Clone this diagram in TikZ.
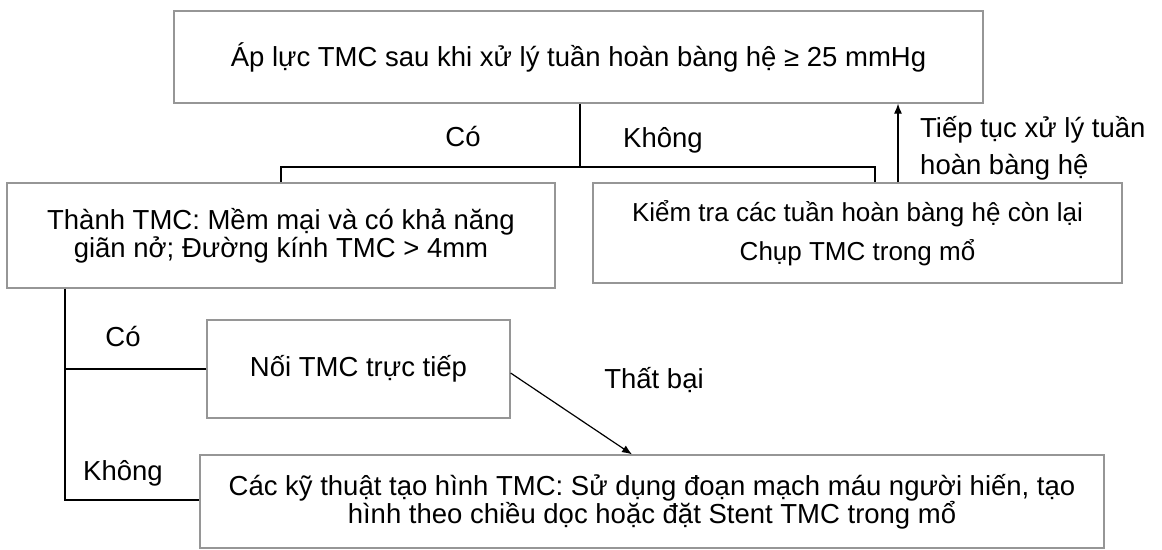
\documentclass[tikz,border=0pt]{standalone}
\usepackage{fontspec}
\setmainfont{Liberation Sans}
\usetikzlibrary{arrows.meta}
\definecolor{boxgray}{RGB}{150,150,150}
\tikzset{
  box/.style={draw=boxgray, line width=1.2pt, rectangle, inner sep=0pt, align=center, font=\fontsize{27.5}{28}\selectfont},
  lbl/.style={inner sep=0pt, font=\fontsize{27.5}{37}\selectfont},
  conn/.style={draw=black, line width=1.2pt},
  arr/.style={conn, -{Latex[length=10pt,width=8pt]}}
}
\begin{document}
\begin{tikzpicture}[x=1pt,y=-1pt]
\useasboundingbox (0,0) rectangle (1162,549);
\node[box, minimum width=809pt, minimum height=92pt] (top) at (578.5,57) {Áp lực TMC sau khi xử lý tuần hoàn bàng hệ ≥ 25 mmHg};
\node[box, minimum width=548pt, minimum height=105pt] (left) at (281,235.5) {Thành TMC: Mềm mại và có khả năng\\giãn nở; Đường kính TMC > 4mm};
\node[box, minimum width=529pt, minimum height=100pt, font=\fontsize{26}{39}\selectfont] (right) at (857.5,233) {Kiểm tra các tuần hoàn bàng hệ còn lại\\Chụp TMC trong mổ};
\node[box, minimum width=303pt, minimum height=98pt] (mid) at (358.5,369) {Nối TMC trực tiếp};
\node[box, minimum width=904pt, minimum height=93pt] (bot) at (652,501.5) {Các kỹ thuật tạo hình TMC: Sử dụng đoạn mạch máu người hiến, tạo\\hình theo chiều dọc hoặc đặt Stent TMC trong mổ};
\coordinate (j1) at (580,167);
\coordinate (j2) at (65,500);
\draw[conn] (top.south -| j1) -- (j1);
\draw[conn] (j1) -| (left.north);
\draw[conn] (j1) -| ([xshift=17.5pt]right.north);
\draw[arr] ([xshift=40.5pt]right.north) -- ([xshift=40.5pt]right.north |- top.south);
\draw[conn] (left.south -| j2) -- (j2) -- (bot.west |- j2);
\draw[conn] (mid.west) -- (mid.west -| j2);
\draw[arr] ([yshift=-4pt]mid.east) -- (bot.north -| 632,0);
\node[lbl] (c1) at (463,137) {Có};
\node[lbl] (k1) at (663,140) {Không};
\node[lbl, anchor=west, align=left] (t1) at (920,148) {Tiếp tục xử lý tuần\\hoàn bàng hệ};
\node[lbl] (c2) at (123,337) {Có};
\node[lbl] (k2) at (123,473) {Không};
\node[lbl] (f1) at (654,380) {Thất bại};
\end{tikzpicture}
\end{document}
